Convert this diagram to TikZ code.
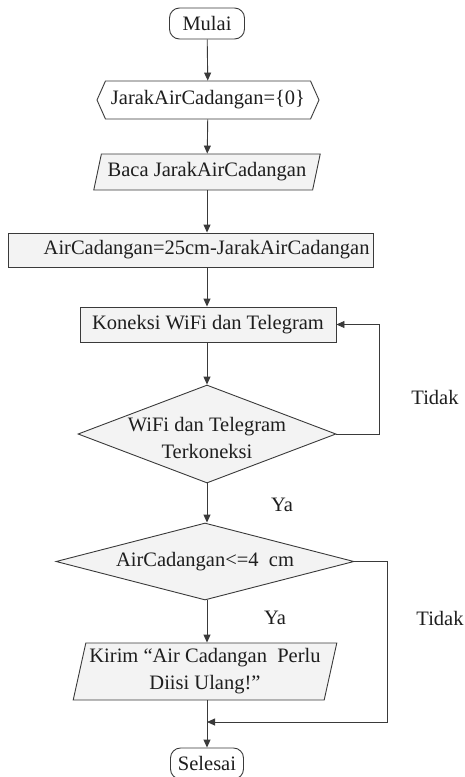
\documentclass[tikz,border=0pt]{standalone}
\usepackage{fontspec}
\setmainfont{Liberation Serif}
\usetikzlibrary{shapes.geometric,shapes.symbols,shapes.misc,arrows.meta}
\definecolor{ln}{HTML}{3A3A3A}
\definecolor{fl}{HTML}{F3F3F3}
\definecolor{tx}{HTML}{1E1E1E}
\begin{document}
\begin{tikzpicture}[x=1pt,y=-1pt,
  every node/.style={font=\rmfamily\fontsize{20.5}{27}\selectfont, text=tx, inner sep=0pt, line width=0.9pt},
  term/.style={draw=ln, fill=white, rounded corners=10pt, minimum height=31pt},
  hexa/.style={draw=ln, fill=white, signal, signal to=west and east, signal pointer angle=132, minimum height=38pt},
  io/.style={draw=ln, fill=fl, trapezium, trapezium stretches=true},
  proc/.style={draw=ln, fill=fl, rectangle},
  dec/.style={draw=ln, fill=fl, diamond},
  lbl/.style={},
  con/.style={draw=ln, line width=0.9pt, -{Triangle[length=8pt,width=7pt]}}
]
\useasboundingbox (0,0) rectangle (465,777);

\node[term, minimum width=75pt] (start) at (207,23.5) {Mulai};
\node[hexa, minimum width=222pt] (init) at (208,100) {JarakAirCadangan=\{0\}};
\node[io, trapezium left angle=69, trapezium right angle=111, minimum width=227pt, minimum height=36pt] (read) at (207,172) {Baca JarakAirCadangan};
\node[proc, minimum width=365pt, minimum height=34pt, text width=358pt, align=right] (calc) at (190.5,250) {AirCadangan=25cm-JarakAirCadangan};
\node[proc, minimum width=256pt, minimum height=35pt] (conn) at (208,324.5) {Koneksi WiFi dan Telegram};
\node[dec, minimum width=258pt, minimum height=98pt,
  label={[align=center, yshift=-4pt]center:WiFi dan Telegram\\Terkoneksi}] (dec1) at (207,434) {};
\node[dec, minimum width=298pt, minimum height=77pt,
  label={center:AirCadangan<=4\ \ cm}] (dec2) at (205,561.5) {};
\node[io, trapezium left angle=75, trapezium right angle=105, minimum width=264pt, minimum height=57pt, align=center] (send) at (205,671.5) {Kirim “Air Cadangan\ \ Perlu\\Diisi Ulang!”};
\node[term, minimum width=73pt] (stop) at (207,763.5) {Selesai};

\node[lbl] (t1) at (435,397) {Tidak};
\node[lbl] (y1) at (282,505) {Ya};
\node[lbl] (y2) at (275,618) {Ya};
\node[lbl] (t2) at (440,618) {Tidak};

\coordinate (r1) at (379,0);
\coordinate (r2) at (387,0);
\coordinate (m) at (207,722);

\draw[con] (start) -- (init);
\draw[con] (init) -- (read);
\draw[con] (read.south) -- (read.south |- calc.north);
\draw[con] (calc.south -| start) -- (conn.north -| start);
\draw[con] (conn.south -| start) -- (dec1.north);
\draw[con] (dec1.east) -- (dec1.east -| r1) |- (conn.east);
\draw[con] (dec1.south) -- (dec1.south |- dec2.north);
\draw[con] (dec2.south -| start) -- (send.north -| start);
\draw[con] (send.south -| start) -- (stop.north);
\draw[con] (dec2.east) -- (dec2.east -| r2) |- (m);
\end{tikzpicture}
\end{document}
